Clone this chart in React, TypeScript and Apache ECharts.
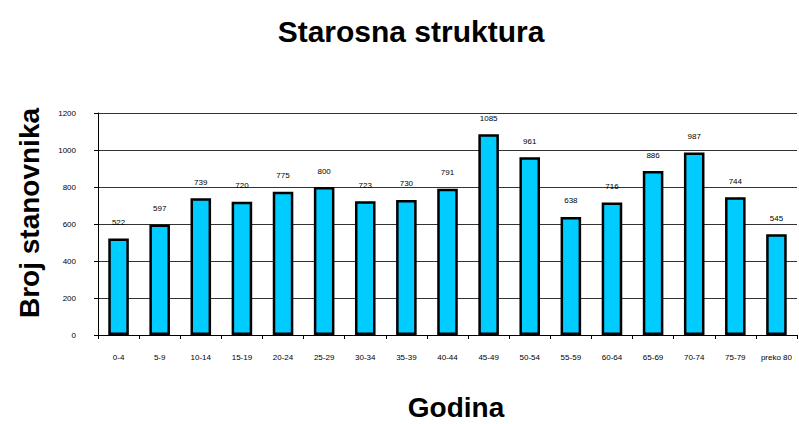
import React, { useEffect, useRef } from "react";
import * as echarts from "echarts";

const categories = ["0-4", "5-9", "10-14", "15-19", "20-24", "25-29", "30-34", "35-39", "40-44", "45-49", "50-54", "55-59", "60-64", "65-69", "70-74", "75-79", "preko 80"];
const values = [522, 597, 739, 720, 775, 800, 723, 730, 791, 1085, 961, 638, 716, 886, 987, 744, 545];
const yTicks = { min: 0, max: 1200, interval: 200 };
const titleText = "Starosna struktura";
const xName = "Godina";
const yName = "Broj stanovnika";

const FONT = "Liberation Sans, Arial, sans-serif";

export default function App() {
  const ref = useRef<HTMLDivElement>(null);
  useEffect(() => {
    const chart = echarts.init(ref.current!, null, { renderer: "svg" });
    chart.setOption({
      animation: false,
      backgroundColor: "#fff",
      title: {
        text: titleText,
        left: 406,
        top: 11,
        textAlign: "center",
        textStyle: { fontFamily: FONT, fontWeight: "bold", fontSize: 30, color: "#000" },
      },
      graphic: [
        {
          type: "text",
          x: 29,
          y: 213,
          rotation: Math.PI / 2,
          style: { text: yName, fontFamily: FONT, fontWeight: "bold", fontSize: 28, fill: "#000", textAlign: "center", textVerticalAlign: "middle" },
        },
        {
          type: "text",
          x: 456,
          y: 407,
          style: { text: xName, fontFamily: FONT, fontWeight: "bold", fontSize: 28, fill: "#000", textAlign: "center", textVerticalAlign: "middle" },
        },
      ],
      grid: { left: 98, right: 2, top: 113, bottom: 89, containLabel: false },
      xAxis: {
        type: "category",
        data: categories,
        axisLine: { lineStyle: { color: "#000", width: 1 } },
        axisTick: { show: true, alignWithLabel: false, length: 4, lineStyle: { color: "#000" } },
        axisLabel: { interval: 0, fontSize: 8, color: "#000", margin: 18, fontFamily: FONT },
      },
      yAxis: {
        type: "value",
        min: yTicks.min,
        max: yTicks.max,
        interval: yTicks.interval,
        axisLine: { show: true, lineStyle: { color: "#000", width: 1 } },
        axisTick: { show: true, length: 4, lineStyle: { color: "#000" } },
        axisLabel: { fontSize: 8, color: "#000", margin: 22, fontFamily: FONT, formatter: (v: number) => String(v) },
        splitLine: { show: true, lineStyle: { color: "#333", width: 1 } },
      },
      series: [
        {
          type: "bar",
          data: values,
          barWidth: "50%",
          itemStyle: { color: "#00CCFF", borderColor: "#000", borderWidth: 2.5 },
          label: {
            show: true,
            position: "top",
            distance: 12,
            fontSize: 8,
            color: "#000",
            fontFamily: FONT,
          },
        },
      ],
    });
    return () => chart.dispose();
  }, []);
  return <div ref={ref} style={{ width: 799, height: 424, position: "absolute", left: 0, top: 0 }} />;
}
